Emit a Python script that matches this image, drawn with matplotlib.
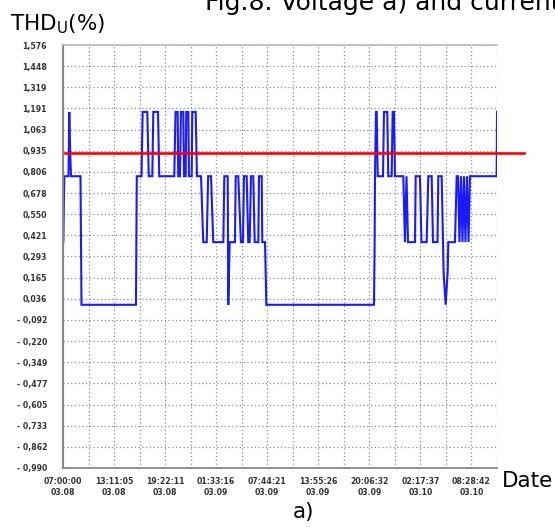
import numpy as np
import matplotlib
matplotlib.use("Agg")
import matplotlib.pyplot as plt

# THD_U (%), time in hours from 07:00:00 03.08
hours = [0.04, 0.10, 0.16, 0.67, 0.76, 0.87, 0.97, 2.12, 2.24, 8.84,
         8.94, 9.51, 9.65, 10.21, 10.39, 10.82, 10.94, 11.51, 11.66, 13.48,
         13.63, 13.89, 13.96, 14.17, 14.29, 14.57, 14.66, 14.86, 14.93, 15.18,
         15.26, 15.59, 15.66, 16.07, 16.23, 16.72, 16.99, 17.41, 17.58, 17.93,
         18.20, 19.42, 19.54, 19.95, 20.02, 20.19, 20.83, 20.92, 21.23, 21.55,
         21.80, 21.92, 22.25, 22.44, 22.61, 22.77, 23.05, 23.22, 23.66, 23.74,
         24.07, 24.14, 24.47, 24.63, 37.67, 37.75, 37.79, 37.91, 38.00, 38.12,
         38.76, 38.88, 39.28, 39.40, 39.81, 39.93, 40.09, 40.21, 41.22, 41.42,
         41.61, 41.79, 42.64, 42.72, 43.24, 43.42, 44.05, 44.25, 44.66, 44.82,
         45.36, 45.46, 45.87, 46.03, 46.10, 46.35, 46.60, 46.67, 47.48, 47.69,
         47.85, 48.03, 48.21, 48.39, 48.57, 48.75, 48.94, 49.12, 49.30, 52.53,
         52.57]
thd = [0.38, 0.60, 0.78, 0.78, 1.17, 0.93, 0.78, 0.78, 0.00, 0.00,
       0.78, 0.78, 1.17, 1.17, 0.78, 0.78, 1.17, 1.17, 0.78, 0.78,
       1.17, 1.17, 0.78, 0.78, 1.17, 1.17, 0.78, 0.78, 1.17, 1.17,
       0.78, 0.78, 1.17, 1.17, 0.78, 0.78, 0.38, 0.38, 0.78, 0.78,
       0.38, 0.38, 0.78, 0.78, 0.00, 0.38, 0.38, 0.78, 0.78, 0.38,
       0.38, 0.78, 0.78, 0.38, 0.38, 0.78, 0.78, 0.38, 0.38, 0.78,
       0.78, 0.38, 0.38, 0.00, 0.00, 0.38, 0.78, 1.17, 1.17, 0.78,
       0.78, 1.17, 1.17, 0.78, 0.78, 1.17, 1.17, 0.78, 0.78, 0.38,
       0.78, 0.38, 0.38, 0.78, 0.78, 0.38, 0.38, 0.78, 0.78, 0.38,
       0.38, 0.78, 0.78, 0.38, 0.20, 0.00, 0.20, 0.38, 0.38, 0.78,
       0.78, 0.38, 0.78, 0.38, 0.78, 0.38, 0.78, 0.38, 0.78, 0.78,
       1.17]

limit = 0.92          # red reference line
limit_span = [0.2, 55.8]

y_ticks = [1.576, 1.448, 1.319, 1.191, 1.063, 0.935, 0.806, 0.678, 0.550,
           0.421, 0.293, 0.165, 0.036, -0.092, -0.220, -0.349, -0.477,
           -0.605, -0.733, -0.862, -0.990]
x_labels = ["07:00:00\n03.08", "13:11:05\n03.08", "19:22:11\n03.08",
            "01:33:16\n03.09", "07:44:21\n03.09", "13:55:26\n03.09",
            "20:06:32\n03.09", "02:17:37\n03.10", "08:28:42\n03.10"]
label_step = 6.1848   # hours between labelled ticks

fig = plt.figure(figsize=(5.55, 5.27), dpi=100)
ax = fig.add_axes([0.1135, 0.112, 0.782, 0.8026])

ax.plot(hours, thd, color="#1a1aff", lw=1.5, solid_joinstyle="miter")
ax.plot(limit_span, [limit, limit], color="#ff0000", lw=1.9, clip_on=False, zorder=5)

half = label_step / 2
ax.set_xlim(0, 17 * half)
ax.set_ylim(y_ticks[-1], y_ticks[0])

ax.set_xticks(np.arange(len(x_labels)) * label_step)
ax.set_xticks(np.arange(1, 18, 2) * half, minor=True)
ax.set_xticklabels(x_labels, fontsize=5.6, fontweight="bold", color="#333333",
                   linespacing=1.3)
ax.set_yticks(y_ticks)
ax.set_yticklabels([f"- {abs(v):.3f}".replace(".", ",") if v < 0 else f"{v:.3f}".replace(".", ",")
                    for v in y_ticks],
                   fontsize=5.6, fontweight="bold", color="#333333")
ax.tick_params(axis="both", which="both", length=0)
ax.tick_params(axis="x", pad=6.5)
ax.tick_params(axis="y", pad=11.5)

ax.grid(True, which="both", color="#8c8c8c", lw=0.9, linestyle=(0, (1, 2)))
ax.set_axisbelow(True)

ax.spines["right"].set_visible(False)
ax.spines["left"].set_color("#888888")
ax.spines["left"].set_linewidth(1.5)
ax.spines["bottom"].set_color("#888888")
ax.spines["bottom"].set_linewidth(1.3)
ax.spines["top"].set_color("#bbbbbb")
ax.spines["top"].set_linewidth(1.2)

fig.text(0.018, 0.943, "THD$_{\\mathregular{U}}$(%)", fontsize=15.5, va="baseline")
fig.text(0.905, 0.076, "Date", fontsize=15.5, va="baseline")
fig.text(0.546, 0.017, "a)", fontsize=15.5, va="baseline", ha="center")
# caption of the source figure, cut by the top edge as in the original
fig.text(0.37, 0.981, "Fig.8. Voltage a) and current", fontsize=18, va="baseline")

fig.savefig("out.png", dpi=100)
